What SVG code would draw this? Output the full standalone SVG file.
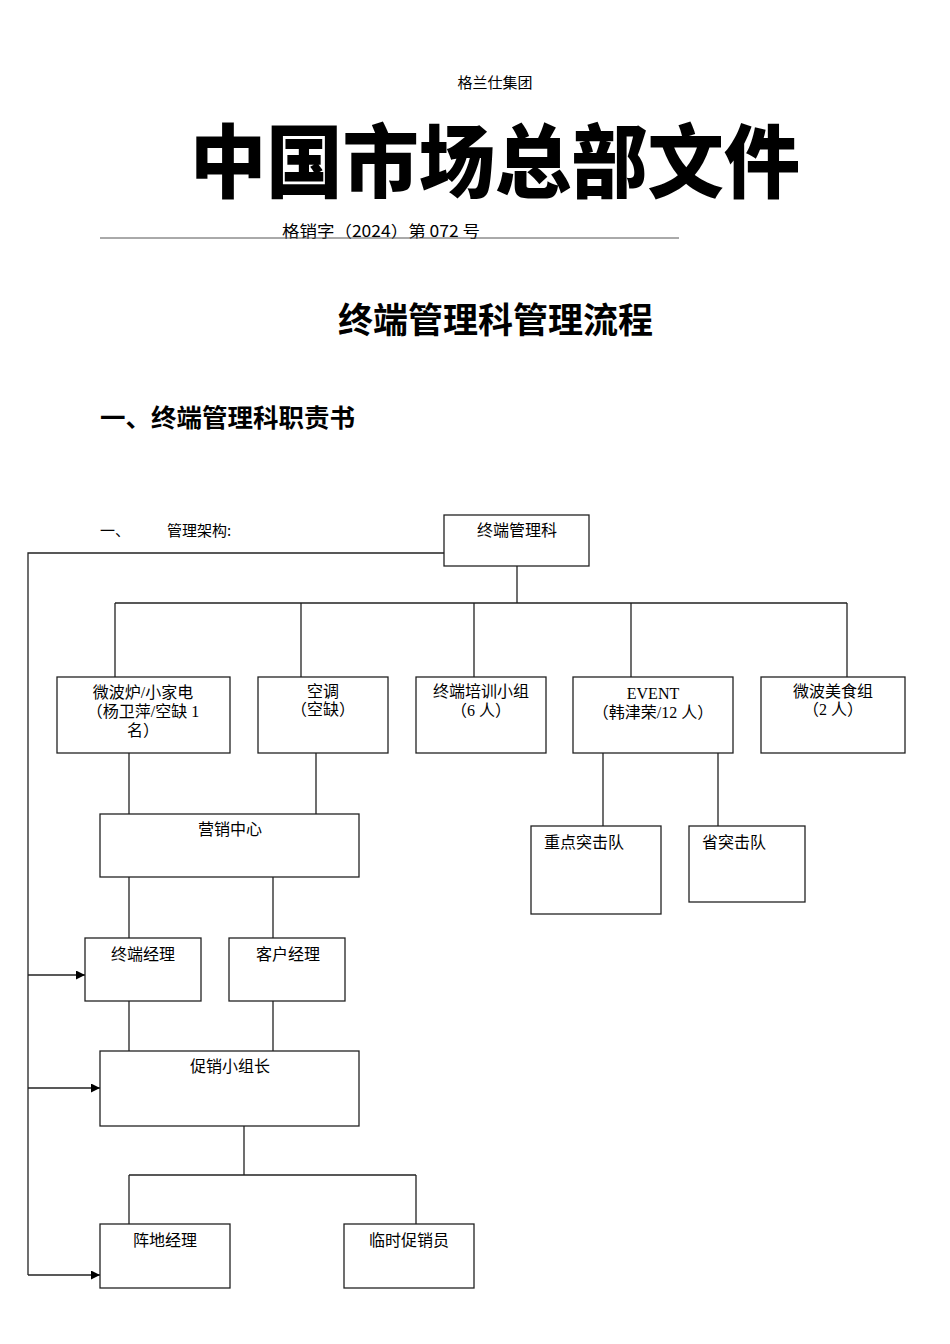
<svg xmlns="http://www.w3.org/2000/svg" width="950" height="1344" viewBox="0 0 950 1344">
<defs>
<style>
.hd{font-family:"Noto Sans CJK SC","Liberation Sans",sans-serif;fill:#000}
.n{font-family:"Liberation Serif","Noto Sans CJK SC",serif;font-size:16px;fill:#000}
.box{fill:#fff;stroke:#222;stroke-width:1.3}
.ln{fill:none;stroke:#222;stroke-width:1.3}
</style>
<marker id="ah" viewBox="0 0 10 10" refX="10" refY="5" markerWidth="9" markerHeight="9" markerUnits="userSpaceOnUse" orient="auto">
<path d="M0,0 L10,5 L0,10 z" fill="#000"/>
</marker>
</defs>
<rect width="950" height="1344" fill="#fff"/>
<text class="hd" x="495" y="88" font-size="15" text-anchor="middle">格兰仕集团</text>
<text class="hd" x="190" y="191" font-size="80" font-weight="900" textLength="610" lengthAdjust="spacingAndGlyphs">中国市场总部文件</text>
<text class="hd" x="282" y="237" font-size="16" textLength="198" lengthAdjust="spacingAndGlyphs">格销字（2024）第 072 号</text>
<line x1="100" y1="238" x2="679" y2="238" stroke="#555" stroke-width="1"/>
<text class="hd" x="338" y="333" font-size="35" font-weight="700" textLength="315" lengthAdjust="spacingAndGlyphs">终端管理科管理流程</text>
<text class="hd" x="100" y="427" font-size="25" font-weight="700" textLength="255" lengthAdjust="spacingAndGlyphs">一、终端管理科职责书</text>
<text class="hd" x="100" y="536" font-size="15">一、</text>
<text class="hd" x="167" y="536" font-size="15">管理架构:</text>

<g id="connectors">
<path class="ln" d="M444,553 H28 V1275"/>
<line class="ln" x1="28" y1="975" x2="85" y2="975" marker-end="url(#ah)"/>
<line class="ln" x1="28" y1="1088" x2="100" y2="1088" marker-end="url(#ah)"/>
<line class="ln" x1="28" y1="1275" x2="100" y2="1275" marker-end="url(#ah)"/>
<path class="ln" d="M517,566 V603 M115,603 H847 M115,603 V677 M301,603 V677 M474,603 V677 M631,603 V677 M847,603 V677"/>
<path class="ln" d="M129,753 V814 M316,753 V814"/>
<path class="ln" d="M129,877 V938 M273,877 V938"/>
<path class="ln" d="M129,1001 V1051 M273,1001 V1051"/>
<path class="ln" d="M244,1126 V1175 M129,1175 H416 M129,1175 V1224 M416,1175 V1224"/>
<path class="ln" d="M603,753 V826 M718,753 V826"/>
</g>

<g id="n-top"><rect class="box" x="444" y="515" width="145" height="51"/><text class="n" x="517" y="536" text-anchor="middle">终端管理科</text></g>
<g id="n-wbl"><rect class="box" x="57" y="677" width="173" height="76"/>
<text class="n" x="143" y="698" text-anchor="middle">微波炉/小家电</text>
<text class="n" x="143" y="717" text-anchor="middle">（杨卫萍/空缺 1</text>
<text class="n" x="143" y="736" text-anchor="middle">名）</text></g>
<g id="n-kt"><rect class="box" x="258" y="677" width="130" height="76"/>
<text class="n" x="323" y="697" text-anchor="middle">空调</text>
<text class="n" x="323" y="715" text-anchor="middle">（空缺）</text></g>
<g id="n-px"><rect class="box" x="416" y="677" width="130" height="76"/>
<text class="n" x="481" y="697" text-anchor="middle">终端培训小组</text>
<text class="n" x="481" y="716" text-anchor="middle">（6 人）</text></g>
<g id="n-event"><rect class="box" x="573" y="677" width="160" height="76"/>
<text class="n" x="653" y="699" text-anchor="middle">EVENT</text>
<text class="n" x="653" y="718" text-anchor="middle">（韩津荣/12 人）</text></g>
<g id="n-ms"><rect class="box" x="761" y="677" width="144" height="76"/>
<text class="n" x="833" y="697" text-anchor="middle">微波美食组</text>
<text class="n" x="833" y="715" text-anchor="middle">（2 人）</text></g>
<g id="n-yx"><rect class="box" x="100" y="814" width="259" height="63"/><text class="n" x="230" y="835" text-anchor="middle">营销中心</text></g>
<g id="n-zd"><rect class="box" x="531" y="826" width="130" height="88"/><text class="n" x="544" y="848">重点突击队</text></g>
<g id="n-s"><rect class="box" x="689" y="826" width="116" height="76"/><text class="n" x="702" y="848">省突击队</text></g>
<g id="n-zj"><rect class="box" x="85" y="938" width="116" height="63"/><text class="n" x="143" y="960" text-anchor="middle">终端经理</text></g>
<g id="n-kh"><rect class="box" x="229" y="938" width="116" height="63"/><text class="n" x="288" y="960" text-anchor="middle">客户经理</text></g>
<g id="n-cx"><rect class="box" x="100" y="1051" width="259" height="75"/><text class="n" x="230" y="1072" text-anchor="middle">促销小组长</text></g>
<g id="n-zdj"><rect class="box" x="100" y="1224" width="130" height="64"/><text class="n" x="165" y="1246" text-anchor="middle">阵地经理</text></g>
<g id="n-ls"><rect class="box" x="344" y="1224" width="130" height="64"/><text class="n" x="409" y="1246" text-anchor="middle">临时促销员</text></g>
</svg>
